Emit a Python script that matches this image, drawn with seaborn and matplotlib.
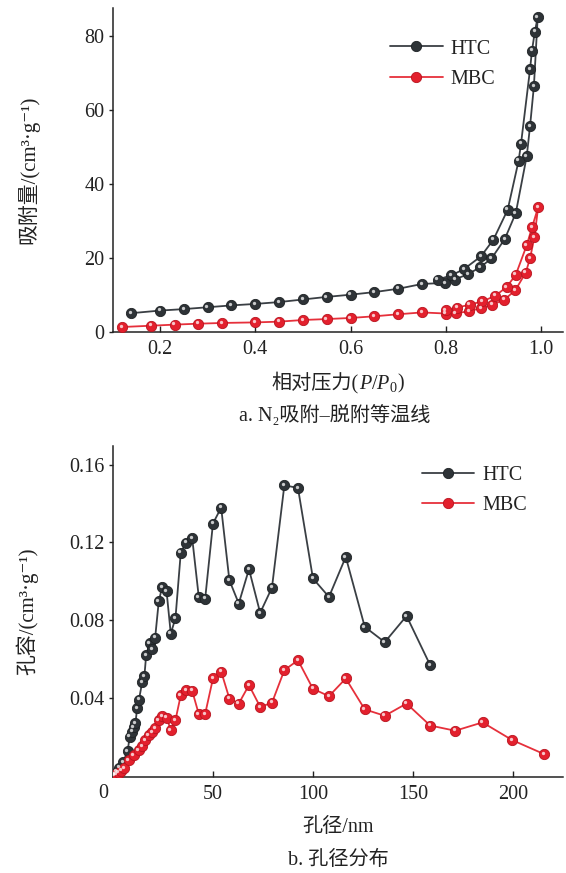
import matplotlib
matplotlib.use("Agg")
import matplotlib.pyplot as plt
import seaborn as sns
from matplotlib.transforms import offset_copy
from matplotlib.offsetbox import TextArea, HPacker, AnchoredOffsetbox

# a. N2 adsorption-desorption isotherms (relative pressure, cm3/g)
p_htc_ads = [0.140, 0.20, 0.25, 0.30, 0.35, 0.40, 0.45, 0.50, 0.55, 0.60, 0.65, 0.70,
             0.75, 0.798, 0.819, 0.847, 0.872, 0.896, 0.924, 0.947, 0.970, 0.977, 0.985, 0.993]
v_htc_ads = [5.1, 5.8, 6.2, 6.7, 7.2, 7.6, 8.1, 8.8, 9.5, 10.1, 10.8, 11.7,
             13.0, 13.3, 14.2, 15.7, 17.5, 19.9, 25.2, 32.2, 47.6, 55.8, 66.5, 85.2]
p_htc_des = [0.987, 0.981, 0.977, 0.958, 0.953, 0.930, 0.900, 0.874, 0.838, 0.811, 0.783]
v_htc_des = [81.3, 76.2, 71.2, 51.0, 46.4, 33.1, 25.0, 20.5, 17.0, 15.3, 14.2]

p_mbc_ads = [0.12, 0.181, 0.231, 0.28, 0.331, 0.40, 0.45, 0.50, 0.55, 0.60, 0.65, 0.70,
             0.75, 0.80, 0.821, 0.849, 0.874, 0.898, 0.923, 0.946, 0.968, 0.977, 0.986, 0.994]
v_mbc_ads = [1.35, 1.7, 2.0, 2.25, 2.45, 2.6, 2.8, 3.25, 3.5, 3.8, 4.25, 4.8,
             5.3, 5.0, 5.1, 5.6, 6.5, 7.4, 8.75, 11.3, 16.1, 20.0, 25.6, 33.8]
p_mbc_des = [0.981, 0.970, 0.947, 0.928, 0.904, 0.877, 0.850, 0.824, 0.800]
v_mbc_des = [28.3, 23.5, 15.5, 12.2, 9.8, 8.3, 7.4, 6.6, 6.0]

# b. pore size distribution (nm, cm3/g)
d_htc = [0.5, 1.8, 3.2, 5.0, 7.3, 8.4, 9.5, 10.4, 11.25, 12.1, 13.0, 14.6, 15.7, 16.6,
         18.4, 19.6, 21.1, 22.9, 24.6, 26.8, 28.9, 31.25, 33.9, 36.6, 39.6, 42.9, 46.1,
         50.0, 54.1, 58.2, 62.9, 68.0, 73.6, 79.5, 85.7, 92.5, 100.0, 108.0, 116.4,
         125.9, 135.9, 146.8, 158.6]
pv_htc = [0.0005, 0.0019, 0.004, 0.0067, 0.0125, 0.020, 0.0225, 0.025, 0.027, 0.0348,
          0.039, 0.048, 0.051, 0.062, 0.068, 0.065, 0.071, 0.0897, 0.097, 0.0948, 0.073,
          0.081, 0.1147, 0.1199, 0.1223, 0.0919, 0.091, 0.1297, 0.1379, 0.1005, 0.0885,
          0.1062, 0.0837, 0.0967, 0.1494, 0.148, 0.1014, 0.0919, 0.1125, 0.0765, 0.0686,
          0.0821, 0.0568]
d_mbc = [0.5, 1.5, 2.8, 4.2, 5.5, 7.8, 10.3, 12.8, 14.5, 16.1, 17.8, 19.5, 21.1, 22.9,
         24.6, 26.8, 28.9, 31.25, 33.9, 36.6, 39.6, 42.9, 46.1, 50.0, 54.1, 58.2, 62.9,
         68.0, 73.6, 79.5, 85.7, 92.5, 100.0, 108.0, 116.4, 125.9, 135.9, 146.8, 158.6,
         171.1, 184.8, 199.6, 215.5]
pv_mbc = [0.0003, 0.0008, 0.0015, 0.0025, 0.0036, 0.0077, 0.0103, 0.0129, 0.0149, 0.018,
          0.0206, 0.0223, 0.0242, 0.0285, 0.0305, 0.0298, 0.0233, 0.0285, 0.0413, 0.0439,
          0.0436, 0.0316, 0.0317, 0.0499, 0.0535, 0.0396, 0.037, 0.0465, 0.0353, 0.0374,
          0.0542, 0.0593, 0.0446, 0.0408, 0.0499, 0.034, 0.0307, 0.037, 0.0257, 0.023,
          0.0273, 0.0182, 0.011]

sns.set_style("ticks")
fam = ['Liberation Serif', 'Noto Sans CJK SC', 'DejaVu Sans']
plt.rcParams['font.family'] = fam
plt.rcParams['mathtext.fontset'] = 'custom'
plt.rcParams['mathtext.rm'] = 'Liberation Serif'
plt.rcParams['mathtext.it'] = 'Liberation Serif:italic'

FS = 14.5
TXT = '#222222'
styles = {
    'HTC': dict(line='#3a3f44', face='#2e3337', edge='#1e2225'),
    'MBC': dict(line='#e6303b', face='#e3202d', edge='#b8141f'),
}

fig = plt.figure(figsize=(5.66, 8.73), dpi=100)
ax1 = fig.add_axes([0.1996, 0.6197, 0.795, 0.3711])
ax2 = fig.add_axes([0.1996, 0.1100, 0.795, 0.3791])


def draw(ax, x, y, name):
    s = styles[name]
    sns.lineplot(x=x, y=y, ax=ax, sort=False, estimator=None, color=s['line'],
                 linewidth=1.3, marker='o', markersize=7.4, markerfacecolor=s['face'],
                 markeredgecolor=s['edge'], markeredgewidth=0.6, label=name, zorder=3)
    # small highlight to give the balls a shaded look
    hl = offset_copy(ax.transData, fig=fig, x=-1.3, y=1.3, units='dots')
    ax.plot(x, y, linestyle='none', marker='o', markersize=2.4,
            markerfacecolor='white', markeredgewidth=0, alpha=0.75,
            transform=hl, zorder=4)


draw(ax1, p_htc_ads + p_htc_des, v_htc_ads + v_htc_des, 'HTC')
draw(ax1, p_mbc_ads + p_mbc_des, v_mbc_ads + v_mbc_des, 'MBC')
draw(ax2, d_htc, pv_htc, 'HTC')
draw(ax2, d_mbc, pv_mbc, 'MBC')

ax1.set_xlim(0.1013, 1.046)
ax1.set_ylim(0, 87.7)
ax1.set_xticks([0.2, 0.4, 0.6, 0.8, 1.0])
ax1.set_xticklabels(['0.2', '0.4', '0.6', '0.8', '1.0'])
ax1.set_yticks([0, 20, 40, 60, 80])

ax2.set_xlim(0, 225)
ax2.set_ylim(-0.0008, 0.1696)
ax2.set_xticks([50, 100, 150, 200])
ax2.set_yticks([0.04, 0.08, 0.12, 0.16])
ax2.set_yticklabels(['0.04', '0.08', '0.12', '0.16'])
ax2.annotate('0', xy=(0, 0), xycoords='axes fraction', xytext=(-7, -5),
             textcoords='offset points', ha='center', va='top', fontsize=FS, color=TXT)

for ax in (ax1, ax2):
    sns.despine(ax=ax)
    for sp in ('left', 'bottom'):
        ax.spines[sp].set_linewidth(1.1)
        ax.spines[sp].set_color('#222222')
    ax.tick_params(axis='y', direction='out', length=3, width=1.0, pad=3,
                   labelsize=FS, colors=TXT)
    ax.tick_params(axis='x', direction='in', length=4, width=1.0, pad=6,
                   labelsize=FS, colors=TXT)
    ax.set_xlabel('')
    ax.set_ylabel('')

ax1.set_ylabel('吸附量/(cm³·g⁻¹)', fontsize=15, color=TXT)
ax1.yaxis.set_label_coords(-0.163, 0.5)
ax2.set_ylabel('孔容/(cm³·g⁻¹)', fontsize=15, color=TXT)
ax2.yaxis.set_label_coords(-0.167, 0.5)

# x label of panel a with italic P/P0
tp = dict(fontsize=FS, color=TXT, family=fam)
parts = [TextArea('相对压力(', textprops=tp),
         TextArea(r'$P/P_0$', textprops=dict(fontsize=FS, color=TXT)),
         TextArea(')', textprops=tp)]
box = HPacker(children=parts, align='baseline', pad=0, sep=0)
ab = AnchoredOffsetbox(loc='center', child=box, pad=0, borderpad=0, frameon=False,
                       bbox_to_anchor=(0.5, -0.157), bbox_transform=ax1.transAxes)
ax1.add_artist(ab)

ax2.text(0.5, -0.154, '孔径/nm', transform=ax2.transAxes, ha='center', va='center',
         fontsize=FS, color=TXT)

fig.text(0.592, 0.5246, 'a. N₂吸附–脱附等温线', ha='center', va='center',
         fontsize=FS, color=TXT)
fig.text(0.597, 0.0149, 'b. 孔径分布', ha='center', va='center', fontsize=FS, color=TXT)

for ax, anchor in ((ax1, (0.616, 0.827)), (ax2, (0.687, 0.866))):
    ax.legend(loc='center left', bbox_to_anchor=anchor, frameon=False, fontsize=FS,
              handlelength=2.6, handletextpad=0.4, labelspacing=0.55, borderpad=0,
              borderaxespad=0, labelcolor=TXT)

fig.savefig('out.png', dpi=100)
